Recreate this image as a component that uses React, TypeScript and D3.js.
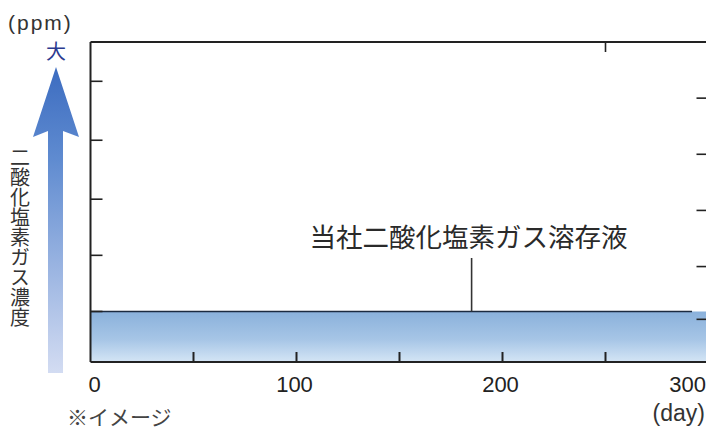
import React from "react"
import { scaleLinear, area, line } from "d3"

// days on the x axis
const xTicks = [0, 50, 100, 150, 200, 250, 300]
const xLabels = [0, 100, 200, 300]
const topTicks = [250]
// unlabelled concentration ticks (arbitrary units)
const leftTicks = [0.9, 1.9, 2.9, 3.95, 5.0]
const rightTicks = [0.76, 1.7, 2.7, 3.7, 4.7]

// the solution's concentration, flat over time
const seriesName = "当社二酸化塩素ガス溶存液"
const seriesDays = [0, 300]
const seriesLevel = [0.9, 0.9]
const lineDays = [0, 292]
const calloutDay = 185

const yTitle = "二酸化塩素ガス濃度"

const W = 706
const H = 432
const FONT = "'Liberation Sans', 'Noto Sans CJK JP', sans-serif"
const JP = "'Noto Sans CJK JP', sans-serif"

export default function App() {
  const x = scaleLinear().domain([0, 300]).range([90.5, 708.5])
  const y = scaleLinear().domain([0, 5.7]).range([362, 42])

  const bandPath = area<number>()
    .x((d) => x(d))
    .y0(y(0))
    .y1((_, i) => y(seriesLevel[i]))(seriesDays)

  const topLine = line<number>()
    .x((d) => x(d))
    .y(() => y(seriesLevel[0]))(lineDays)

  const axis = "#222"

  // keep the last label inside the page, as in the scan
  const labelX = (d: number) => {
    if (d === 0) return { x: x(d) + 4, anchor: "middle" }
    if (d === 300) return { x: W, anchor: "end" }
    return { x: x(d) - 2, anchor: "middle" }
  }

  return (
    <svg
      width={W}
      height={H}
      style={{ position: "absolute", left: 0, top: 0, background: "#fff" }}
    >
      <defs>
        <linearGradient id="band" x1="0" y1="0" x2="0" y2="1">
          <stop offset="0%" stopColor="#8ab1db" />
          <stop offset="55%" stopColor="#a6c5e6" />
          <stop offset="100%" stopColor="#d4e5f5" />
        </linearGradient>
        <linearGradient id="arrow" x1="0" y1="0" x2="0" y2="1">
          <stop offset="0%" stopColor="#3c6cc0" />
          <stop offset="30%" stopColor="#5f8bd0" />
          <stop offset="100%" stopColor="#d3dcf2" />
        </linearGradient>
      </defs>

      {/* concentration arrow */}
      <path
        d="M56,67 L79,137 L63,131 L63,373 L48,373 L48,131 L33,137 Z"
        fill="url(#arrow)"
      />
      <text x={8} y={30} fontFamily={FONT} fontSize={21} letterSpacing={2} fill="#333">
        (ppm)
      </text>
      <text
        x={56}
        y={59}
        textAnchor="middle"
        fontFamily={JP}
        fontSize={20}
        fill="#2b3a8f"
      >
        大
      </text>
      <text
        x={20}
        y={147}
        fontFamily={JP}
        fontSize={20}
        fill="#333"
        style={{ writingMode: "vertical-rl" }}
      >
        {yTitle}
      </text>

      {/* band */}
      <path d={bandPath ?? ""} fill="url(#band)" />
      <path d={topLine ?? ""} fill="none" stroke="#1c2b40" strokeWidth={1.6} />

      {/* frame */}
      <line x1={x(0)} x2={W} y1={y(5.7)} y2={y(5.7)} stroke={axis} strokeWidth={2} />
      <line x1={x(0)} x2={W} y1={y(0)} y2={y(0)} stroke={axis} strokeWidth={2} />
      <line x1={x(0)} x2={x(0)} y1={y(5.7)} y2={y(0)} stroke={axis} strokeWidth={2} />

      {xTicks.slice(1, -1).map((d) => (
        <line key={d} x1={x(d)} x2={x(d)} y1={y(0)} y2={y(0) - 10} stroke={axis} strokeWidth={2} />
      ))}
      {topTicks.map((d) => (
        <line key={d} x1={x(d)} x2={x(d)} y1={y(5.7)} y2={y(5.7) + 10} stroke={axis} strokeWidth={1.6} />
      ))}
      {leftTicks.map((v) => (
        <line key={v} x1={x(0)} x2={x(0) + 12} y1={y(v)} y2={y(v)} stroke={axis} strokeWidth={1.6} />
      ))}
      {rightTicks.map((v) => (
        <line key={v} x1={x(300)} x2={x(300) - 12} y1={y(v)} y2={y(v)} stroke={axis} strokeWidth={1.6} />
      ))}

      {xLabels.map((d) => {
        const p = labelX(d)
        return (
          <text
            key={d}
            x={p.x}
            y={392}
            textAnchor={p.anchor}
            fontFamily={FONT}
            fontSize={22}
            fill="#222"
          >
            {d}
          </text>
        )
      })}
      <text x={W - 1} y={421} textAnchor="end" fontFamily={FONT} fontSize={23} fill="#333">
        (day)
      </text>
      <text x={67} y={425} fontFamily={JP} fontSize={21} fill="#444">
        ※イメージ
      </text>

      {/* callout */}
      <line
        x1={x(calloutDay)}
        x2={x(calloutDay)}
        y1={258}
        y2={y(seriesLevel[0])}
        stroke="#333"
        strokeWidth={1.6}
      />
      <text
        x={x(calloutDay) - 3}
        y={247}
        textAnchor="middle"
        fontFamily={JP}
        fontSize={26.5}
        fill="#2a2a2a"
      >
        {seriesName}
      </text>
    </svg>
  )
}
